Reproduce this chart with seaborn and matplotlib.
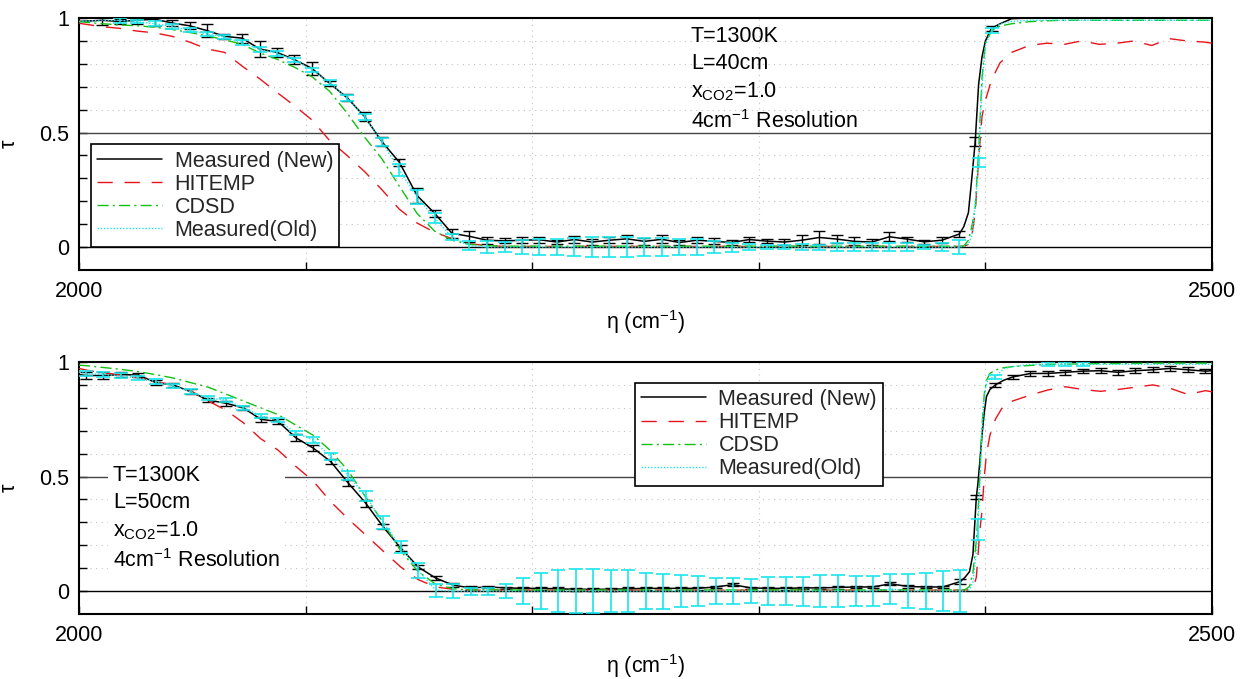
import numpy as np
import pandas as pd
import matplotlib
matplotlib.use("Agg")
import matplotlib.pyplot as plt
from matplotlib.lines import Line2D
import seaborn as sns

nan = np.nan

# ---------------- DATA : top panel (L = 40 cm) ----------------
top_wn = [2000.0, 2010.2, 2017.9, 2025.6, 2033.4, 2041.1, 2048.8, 2056.5, 2064.2, 2072.0,
          2079.7, 2087.4, 2095.1, 2102.8, 2110.6, 2118.3, 2126.0, 2133.7, 2141.4, 2149.2,
          2156.9, 2164.6, 2172.3, 2180.0, 2187.8, 2195.5, 2203.2, 2210.9, 2218.6, 2226.4,
          2234.1, 2241.8, 2249.5, 2257.2, 2265.0, 2272.7, 2280.4, 2288.1, 2295.8, 2303.6,
          2311.3, 2319.0, 2326.7, 2334.4, 2342.2, 2349.9, 2357.6, 2365.3, 2373.0, 2380.8,
          2388.5, 2390.5, 2392.5, 2394.0, 2395.5, 2397.0, 2398.5, 2400.0, 2402.7, 2406.5,
          2411.6, 2419.4, 2427.1, 2434.8, 2442.5, 2450.2, 2458.0, 2465.7, 2473.4, 2481.1,
          2488.8, 2496.6, 2500.0]
top_new = [0.985, 0.990, 0.985, 0.990, 0.995, 0.978, 0.966, 0.945, 0.920, 0.912,
           0.865, 0.850, 0.818, 0.780, 0.715, 0.652, 0.570, 0.460, 0.370, 0.225,
           0.148, 0.060, 0.047, 0.030, 0.027, 0.030, 0.032, 0.022, 0.033, 0.022,
           0.030, 0.036, 0.025, 0.034, 0.020, 0.030, 0.025, 0.020, 0.033, 0.026,
           0.022, 0.030, 0.042, 0.035, 0.025, 0.022, 0.045, 0.035, 0.023, 0.030,
           0.057, 0.090, 0.150, 0.300, 0.460, 0.710, 0.830, 0.900, 0.955, 0.975,
           0.997, 1.000, 1.000, 1.000, 1.000, 1.000, 1.000, 1.000, 1.000, 1.000,
           1.000, 1.000, 1.000]
top_new_err = [nan, 0.020, 0.010, 0.017, 0.030, 0.015, 0.016, 0.030, 0.010, 0.020,
               0.035, 0.020, 0.020, 0.027, 0.012, 0.015, 0.020, 0.020, 0.015, 0.033,
               0.015, 0.020, 0.023, 0.016, 0.011, 0.013, 0.012, 0.009, 0.015, 0.014,
               0.014, 0.017, 0.016, 0.018, 0.011, 0.012, 0.013, 0.011, 0.010, 0.009,
               0.012, 0.022, 0.029, 0.018, 0.018, 0.012, 0.020, 0.011, 0.010, 0.013,
               0.015, nan, nan, nan, 0.020, nan, nan, nan, 0.012, nan,
               nan, nan, nan, nan, nan, nan, nan, nan, nan, nan,
               nan, nan, nan]
top_hitemp = [0.977, 0.962, 0.955, 0.943, 0.935, 0.920, 0.895, 0.865, 0.850, 0.790,
              0.735, 0.675, 0.617, 0.555, 0.465, 0.400, 0.330, 0.250, 0.165, 0.105,
              0.065, 0.037, 0.015, 0.006, 0.003, 0.003, 0.003, 0.003, 0.003, 0.003,
              0.003, 0.003, 0.003, 0.003, 0.003, 0.003, 0.003, 0.003, 0.003, 0.003,
              0.003, 0.003, 0.003, 0.003, 0.003, 0.003, 0.003, 0.003, 0.003, 0.003,
              0.003, 0.003, 0.012, 0.050, 0.150, 0.380, 0.570, 0.640, 0.730, 0.805,
              0.850, 0.880, 0.890, 0.885, 0.900, 0.885, 0.890, 0.900, 0.880, 0.910,
              0.900, 0.895, 0.890]
top_cdsd = [0.984, 0.975, 0.970, 0.966, 0.960, 0.950, 0.937, 0.922, 0.905, 0.885,
            0.848, 0.820, 0.785, 0.744, 0.680, 0.585, 0.480, 0.385, 0.265, 0.147,
            0.070, 0.030, 0.012, 0.006, 0.004, 0.004, 0.004, 0.004, 0.004, 0.004,
            0.004, 0.004, 0.004, 0.004, 0.004, 0.004, 0.004, 0.004, 0.004, 0.004,
            0.004, 0.004, 0.004, 0.004, 0.004, 0.004, 0.004, 0.004, 0.004, 0.004,
            0.004, 0.005, 0.030, 0.090, 0.170, 0.420, 0.740, 0.890, 0.945, 0.965,
            0.975, 0.984, 0.988, 0.990, 0.990, 0.990, 0.990, 0.990, 0.990, 0.990,
            0.990, 0.990, 0.990]
top_old = [0.985, 0.990, 0.990, 0.984, 0.975, 0.963, 0.947, 0.930, 0.917, 0.892,
           0.863, 0.846, 0.817, 0.773, 0.718, 0.650, 0.568, 0.459, 0.336, 0.218,
           0.127, 0.044, 0.006, 0.000, 0.000, 0.000, 0.000, 0.000, 0.000, 0.000,
           0.000, 0.000, 0.000, 0.000, 0.000, 0.000, 0.000, 0.000, 0.000, 0.000,
           0.000, 0.000, 0.000, 0.000, 0.000, 0.000, 0.000, 0.000, 0.000, 0.000,
           0.000, 0.003, 0.015, 0.050, 0.180, 0.370, 0.700, 0.880, 0.945, 0.975,
           0.985, 0.990, 0.990, 0.990, 0.990, 0.990, 0.990, 0.990, 0.990, 0.990,
           0.990, 0.990, 0.990]
top_old_err = [nan, nan, 0.010, 0.008, 0.010, 0.010, 0.010, 0.010, 0.010, 0.010,
               0.010, 0.010, 0.010, 0.010, 0.012, 0.012, 0.015, 0.018, 0.025, 0.030,
               0.020, 0.015, 0.020, 0.025, 0.022, 0.029, 0.034, 0.034, 0.040, 0.044,
               0.042, 0.044, 0.039, 0.041, 0.034, 0.034, 0.025, 0.020, 0.014, 0.007,
               0.007, 0.012, 0.011, 0.016, 0.016, 0.016, 0.016, 0.016, 0.010, 0.018,
               0.030, nan, nan, nan, nan, 0.020, nan, nan, 0.010, nan,
               nan, nan, nan, nan, nan, nan, nan, nan, nan, nan,
               nan, nan, nan]

# ---------------- DATA : bottom panel (L = 50 cm) ----------------
bot_wn = [2000.0, 2003.0, 2010.7, 2018.4, 2026.2, 2033.9, 2041.6, 2049.3, 2057.0, 2064.8,
          2072.5, 2080.2, 2087.9, 2095.6, 2103.4, 2111.1, 2118.8, 2126.5, 2134.2, 2142.0,
          2149.7, 2157.4, 2165.1, 2172.8, 2180.6, 2188.3, 2196.0, 2203.7, 2211.4, 2219.2,
          2226.9, 2234.6, 2242.3, 2250.0, 2257.8, 2265.5, 2273.2, 2280.9, 2288.6, 2296.4,
          2304.1, 2311.8, 2319.5, 2327.2, 2335.0, 2342.7, 2350.4, 2358.1, 2365.8, 2373.6,
          2381.3, 2389.0, 2391.0, 2393.0, 2394.5, 2396.0, 2396.7, 2397.5, 2398.5, 2399.5,
          2400.5, 2402.0, 2404.4, 2408.0, 2412.1, 2419.9, 2427.6, 2435.3, 2443.0, 2450.8,
          2458.5, 2466.2, 2473.9, 2481.6, 2489.4, 2497.1, 2500.0]
bot_new = [0.945, 0.941, 0.941, 0.945, 0.943, 0.910, 0.900, 0.870, 0.834, 0.820,
           0.800, 0.750, 0.740, 0.670, 0.624, 0.565, 0.472, 0.384, 0.281, 0.188,
           0.105, 0.057, 0.026, 0.014, 0.018, 0.014, 0.012, 0.012, 0.010, 0.008,
           0.008, 0.008, 0.010, 0.012, 0.012, 0.012, 0.012, 0.018, 0.028, 0.014,
           0.012, 0.012, 0.014, 0.014, 0.016, 0.018, 0.018, 0.032, 0.020, 0.018,
           0.018, 0.042, 0.060, 0.085, 0.160, 0.410, 0.470, 0.560, 0.680, 0.780,
           0.850, 0.880, 0.900, 0.920, 0.935, 0.950, 0.950, 0.955, 0.960, 0.962,
           0.955, 0.962, 0.966, 0.972, 0.966, 0.960, 0.962]
bot_new_err = [nan, 0.017, 0.017, 0.010, 0.010, 0.012, 0.010, 0.010, 0.010, 0.010,
               0.010, 0.010, 0.010, 0.015, 0.012, 0.012, 0.015, 0.015, 0.012, 0.012,
               0.010, 0.010, 0.008, 0.008, 0.006, 0.006, 0.006, 0.006, 0.006, 0.006,
               0.006, 0.006, 0.006, 0.006, 0.006, 0.006, 0.006, 0.006, 0.006, 0.006,
               0.006, 0.006, 0.006, 0.006, 0.006, 0.006, 0.006, 0.006, 0.006, 0.006,
               0.006, 0.010, nan, nan, nan, 0.008, nan, nan, nan, nan,
               nan, nan, 0.010, nan, 0.010, 0.010, 0.010, 0.010, 0.010, 0.010,
               0.010, 0.010, 0.010, 0.010, 0.010, 0.010, nan]
bot_hitemp = [0.972, 0.965, 0.952, 0.945, 0.930, 0.915, 0.900, 0.875, 0.830, 0.790,
              0.735, 0.665, 0.615, 0.545, 0.480, 0.390, 0.315, 0.245, 0.175, 0.105,
              0.050, 0.018, 0.008, 0.004, 0.004, 0.004, 0.004, 0.004, 0.004, 0.004,
              0.004, 0.004, 0.004, 0.004, 0.004, 0.004, 0.004, 0.004, 0.004, 0.004,
              0.004, 0.004, 0.004, 0.004, 0.004, 0.004, 0.004, 0.004, 0.004, 0.004,
              0.004, 0.004, 0.004, 0.006, 0.012, 0.060, 0.150, 0.260, 0.350, 0.500,
              0.600, 0.680, 0.750, 0.810, 0.830, 0.856, 0.878, 0.892, 0.880, 0.872,
              0.880, 0.890, 0.900, 0.885, 0.858, 0.875, 0.870]
bot_cdsd = [0.986, 0.984, 0.976, 0.968, 0.958, 0.945, 0.930, 0.910, 0.890, 0.860,
            0.830, 0.800, 0.770, 0.725, 0.680, 0.612, 0.525, 0.410, 0.300, 0.175,
            0.085, 0.030, 0.010, 0.005, 0.005, 0.005, 0.005, 0.005, 0.005, 0.005,
            0.005, 0.005, 0.005, 0.005, 0.005, 0.005, 0.005, 0.005, 0.005, 0.005,
            0.005, 0.005, 0.005, 0.005, 0.005, 0.005, 0.005, 0.005, 0.005, 0.005,
            0.005, 0.005, 0.006, 0.020, 0.080, 0.220, 0.330, 0.500, 0.720, 0.860,
            0.920, 0.950, 0.965, 0.975, 0.980, 0.985, 0.990, 0.990, 0.992, 0.993,
            0.993, 0.994, 0.995, 0.995, 0.995, 0.995, 0.995]
bot_old = [0.955, 0.950, 0.945, 0.940, 0.930, 0.915, 0.895, 0.870, 0.842, 0.834,
           0.800, 0.765, 0.747, 0.690, 0.660, 0.586, 0.505, 0.415, 0.300, 0.192,
           0.090, 0.004, 0.000, 0.000, 0.000, 0.000, 0.000, 0.000, 0.000, 0.000,
           0.000, 0.000, 0.000, 0.000, 0.000, 0.000, 0.000, 0.000, 0.000, 0.000,
           0.000, 0.000, 0.000, 0.000, 0.000, 0.000, 0.000, 0.010, 0.000, 0.000,
           0.000, 0.000, 0.000, 0.005, 0.040, 0.170, 0.270, 0.450, 0.700, 0.850,
           0.910, 0.930, 0.935, 0.970, 0.980, 0.990, 0.990, 0.990, 0.990, 0.990,
           0.990, 0.990, 0.990, 0.990, 0.990, 0.990, 0.990]
bot_old_err = [nan, 0.012, 0.010, 0.010, 0.010, 0.010, 0.010, 0.010, 0.010, 0.010,
               0.010, 0.010, 0.010, 0.010, 0.012, 0.015, 0.018, 0.022, 0.029, 0.025,
               0.033, 0.029, 0.029, 0.015, 0.015, 0.031, 0.058, 0.079, 0.091, 0.096,
               0.095, 0.090, 0.090, 0.080, 0.076, 0.069, 0.066, 0.058, 0.058, 0.054,
               0.060, 0.060, 0.063, 0.069, 0.069, 0.064, 0.064, 0.066, 0.073, 0.079,
               0.087, 0.093, nan, nan, nan, nan, 0.045, nan, nan, nan,
               nan, nan, 0.010, nan, nan, nan, 0.008, 0.008, 0.008, nan,
               nan, nan, nan, nan, nan, nan, nan]

series_labels = ["Measured (New)", "HITEMP", "CDSD", "Measured(Old)"]
top_info = ["T=1300K", "L=40cm", r"x$_{\mathregular{CO2}}$=1.0", r"4cm$^{\mathregular{-1}}$ Resolution"]
bot_info = ["T=1300K", "L=50cm", r"x$_{\mathregular{CO2}}$=1.0", r"4cm$^{\mathregular{-1}}$ Resolution"]
x_ticks = [2000, 2100, 2200, 2300, 2400, 2500]
x_tick_labels = ["2000", "", "", "", "", "2500"]
y_ticks = [0, 0.5, 1]
y_tick_labels = ["0", "0.5", "1"]
y_minor = [0.1, 0.2, 0.3, 0.4, 0.6, 0.7, 0.8, 0.9]

for arr in (top_new, top_new_err, top_hitemp, top_cdsd, top_old, top_old_err):
    assert len(arr) == len(top_wn)
for arr in (bot_new, bot_new_err, bot_hitemp, bot_cdsd, bot_old, bot_old_err):
    assert len(arr) == len(bot_wn)

# ---------------- STYLE ----------------
sns.set_theme(style="white")
plt.rcParams["font.family"] = ["Liberation Sans", "DejaVu Sans"]
plt.rcParams["mathtext.default"] = "regular"
plt.rcParams["axes.unicode_minus"] = False

C_NEW = "black"
C_HIT = "#e8141c"
C_CDSD = "#12c012"
C_OLD = "#19e6ec"
FS = 15.5

fig = plt.figure(figsize=(12.51, 6.79), dpi=100)
W, H = 1251.0, 679.0
ax_top = fig.add_axes([79 / W, 1 - 270 / H, 1133 / W, 252 / H])
ax_bot = fig.add_axes([79 / W, 1 - 614 / H, 1133 / W, 252 / H])


def draw_panel(ax, wn, new, new_err, hit, cdsd, old, old_err, info, info_xy,
               info_boxed, leg_loc, leg_anchor):
    df = pd.DataFrame({"wn": wn, "new": new, "new_err": new_err, "hit": hit,
                       "cdsd": cdsd, "old": old, "old_err": old_err})

    # reference lines
    ax.axhline(0.0, color="black", lw=1.0, zorder=1.5)
    ax.axhline(0.5, color="#444444", lw=1.0, zorder=1.5)

    handles = []
    sns.lineplot(data=df, x="wn", y="new", ax=ax, color=C_NEW, lw=1.1,
                 estimator=None, sort=False, zorder=3, legend=False)
    handles.append(Line2D([], [], color=C_NEW, lw=1.1))
    m = df["new_err"].notna()
    ax.errorbar(df.loc[m, "wn"], df.loc[m, "new"], yerr=df.loc[m, "new_err"],
                fmt="none", ecolor=C_NEW, elinewidth=1.0, capsize=4.6,
                capthick=1.0, zorder=3)

    ls_hit = (0, (11, 8.5))
    sns.lineplot(data=df, x="wn", y="hit", ax=ax, color=C_HIT, lw=1.0,
                 linestyle=ls_hit, estimator=None, sort=False, zorder=4, legend=False)
    handles.append(Line2D([], [], color=C_HIT, lw=1.0, linestyle=ls_hit))

    ls_cdsd = (0, (8, 3, 1.5, 3))
    sns.lineplot(data=df, x="wn", y="cdsd", ax=ax, color=C_CDSD, lw=1.0,
                 linestyle=ls_cdsd, estimator=None, sort=False, zorder=5, legend=False)
    handles.append(Line2D([], [], color=C_CDSD, lw=1.0, linestyle=ls_cdsd))

    ls_old = (0, (1, 1.3))
    sns.lineplot(data=df, x="wn", y="old", ax=ax, color=C_OLD, lw=1.0,
                 linestyle=ls_old, estimator=None, sort=False, zorder=6, legend=False)
    handles.append(Line2D([], [], color=C_OLD, lw=1.0, linestyle=ls_old))
    m = df["old_err"].notna()
    ax.errorbar(df.loc[m, "wn"], df.loc[m, "old"], yerr=df.loc[m, "old_err"],
                fmt="none", ecolor=C_OLD, elinewidth=1.2, capsize=4.8,
                capthick=1.2, zorder=6)

    # axes styling
    ax.set_xlim(2000, 2500)
    ax.set_ylim(-0.1, 1.0)
    ax.set_xticks(x_ticks, labels=x_tick_labels)
    ax.set_yticks(y_ticks, labels=y_tick_labels)
    ax.set_yticks(y_minor, minor=True)
    ax.tick_params(axis="both", which="both", direction="in", length=6,
                   width=1.0, colors="black", labelsize=FS, top=False, right=False,
                   bottom=True, left=True)
    ax.tick_params(axis="x", pad=8)
    ax.tick_params(axis="y", pad=7)
    ax.grid(False)
    ax.grid(True, which="minor", axis="y", color="#c4c4c4", lw=0.8,
            linestyle=(0, (1, 4)), zorder=0)
    ax.grid(True, which="major", axis="x", color="#c4c4c4", lw=0.8,
            linestyle=(0, (1, 4)), zorder=0)
    ax.set_axisbelow(True)
    for sp in ax.spines.values():
        sp.set_visible(True)
        sp.set_color("black")
        sp.set_linewidth(1.5)
    ax.set_xlabel(r"η (cm$^{\mathregular{-1}}$)", fontsize=FS, labelpad=4, color="black")
    ax.set_ylabel("τ", fontsize=FS, labelpad=14, color="black")

    leg = ax.legend(handles, series_labels, loc=leg_loc, bbox_to_anchor=leg_anchor,
                    frameon=True, fancybox=False, shadow=False, framealpha=1.0,
                    edgecolor="black", facecolor="white", fontsize=FS,
                    handlelength=3.0, handletextpad=0.6, borderpad=0.28,
                    labelspacing=0.1, borderaxespad=0.0)
    leg.get_frame().set_linewidth(1.2)
    leg.set_zorder(20)

    box = dict(boxstyle="square,pad=0.25", fc="white", ec="none") if info_boxed else None
    ax.text(info_xy[0], info_xy[1], "\n".join(info), fontsize=FS, ha="left",
            va="top", linespacing=1.38, color="black", zorder=15, bbox=box)


draw_panel(ax_top, top_wn, top_new, top_new_err, top_hitemp, top_cdsd, top_old,
           top_old_err, top_info, (2270.0, 0.965), False, "lower left", (0.0106, 0.0913))
draw_panel(ax_bot, bot_wn, bot_new, bot_new_err, bot_hitemp, bot_cdsd, bot_old,
           bot_old_err, bot_info, (2015.0, 0.55), True, "upper left", (0.4907, 0.9167))

fig.savefig("out.png", dpi=100)
